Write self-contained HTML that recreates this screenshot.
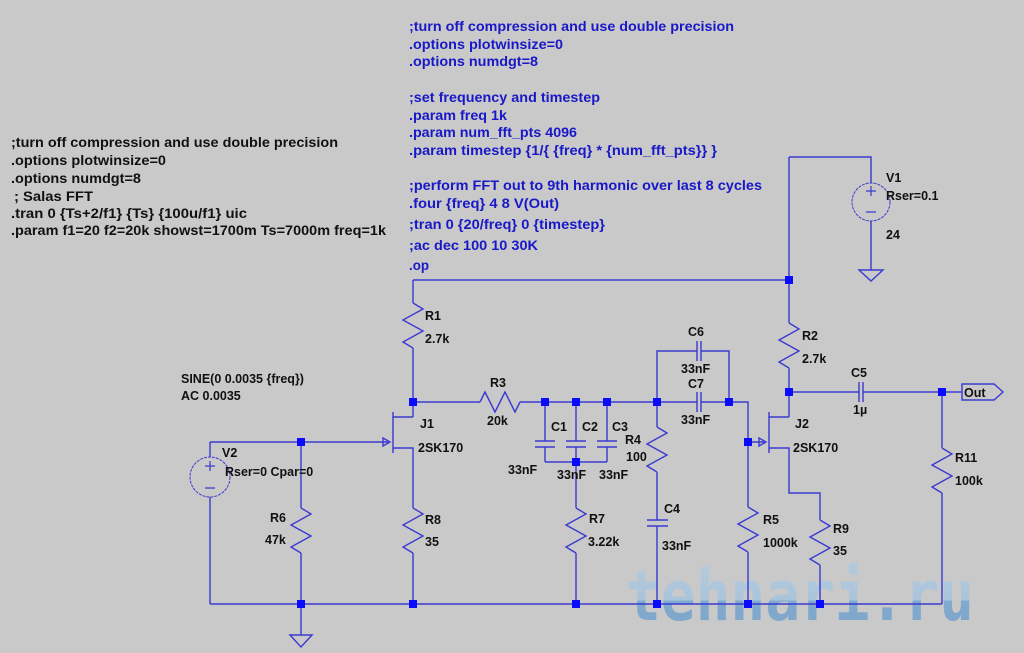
<!DOCTYPE html>
<html><head><meta charset="utf-8"><style>
html,body{margin:0;padding:0;background:#c9c9c9;}
svg{display:block}
text{font-family:"Liberation Sans",Arial,sans-serif;font-weight:bold;font-size:12.5px;fill:#111}
.b{fill:#1818c8;font-weight:bold;font-size:13.5px}
.k{font-weight:bold;font-size:13.5px;fill:#111}
</style></head><body>
<svg width="1024" height="653" viewBox="0 0 1024 653" xmlns="http://www.w3.org/2000/svg">
<rect width="1024" height="653" fill="#c9c9c9"/>
<defs><linearGradient id="wg" x1="0" y1="0" x2="0" y2="1"><stop offset="0" stop-color="#b4cce0"/><stop offset="0.55" stop-color="#a9c4dc"/><stop offset="0.56" stop-color="#7fa9cf"/><stop offset="1" stop-color="#7aa4cc"/></linearGradient></defs>
<!-- watermark -->
<text x="626" y="620" textLength="348" lengthAdjust="spacingAndGlyphs" style="font-family:'DejaVu Sans Mono','Liberation Mono',monospace;font-size:70px;font-weight:bold;fill:url(#wg);opacity:0.95">tehnari.ru</text>

<g fill="none" stroke="#3a3ad0" stroke-width="1.4">
<path d="M413 280H789M413 280V303M413 348V417"/>
<path d="M789 157V323M789 368V417M769 417H789"/>
<path d="M789 157H871V183M871 221V270M859 270H883L871 281Z"/>
<path d="M393 412V453M393 417H413M393 448H413V508M413 553V604"/>
<path d="M210 442H388M383 438L390 442L383 446Z"/>
<path d="M210 442V457M210 497V604M210 604H942"/>
<path d="M301 442V508M301 553V635M290 635H312L301 647Z"/>
<path d="M413 402H480M520 402H697M701 402H748V507M748 552V604"/>
<path d="M545 402V441M535 441H555M535 447H555M545 447V462"/>
<path d="M576 402V441M566 441H586M566 447H586M576 447V462"/>
<path d="M607 402V441M597 441H617M597 447H617M607 447V462"/>
<path d="M545 462H607M576 462V508M576 553V604"/>
<path d="M657 402V427M657 472V520M647 520H668M647 526H668M657 526V604"/>
<path d="M657 402V351H697M697 341V361M701 341V361M701 351H729V402"/>
<path d="M697 392V412M701 392V412"/>
<path d="M748 442H764M759 438L766 442L759 446Z"/>
<path d="M769 412V453M769 448H789V493H820V520M820 565V604"/>
<path d="M789 392H859M859 382V402M863 382V402M863 392H962"/>
<path d="M962 384H994L1003 392L994 400H962Z"/>
<path d="M942 392V448M942 493V604"/>
<path d="M413 303l10 6l-20 11l20 11l-20 11l10 6"/>
<path d="M789 323l10 6l-20 11l20 11l-20 11l10 6"/>
<path d="M480 402l5 -10l10 20l10 -20l10 20l5 -10"/>
<path d="M657 427l10 6l-20 11l20 11l-20 11l10 6"/>
<path d="M301 508l10 6l-20 11l20 11l-20 11l10 6"/>
<path d="M413 508l10 6l-20 11l20 11l-20 11l10 6"/>
<path d="M576 508l10 6l-20 11l20 11l-20 11l10 6"/>
<path d="M748 507l10 6l-20 11l20 11l-20 11l10 6"/>
<path d="M820 520l10 6l-20 11l20 11l-20 11l10 6"/>
<path d="M942 448l10 6l-20 11l20 11l-20 11l10 6"/>
</g>
<g fill="none" stroke="#3a3ad0" stroke-width="1" stroke-dasharray="3 1">
<circle cx="871" cy="202" r="19"/><circle cx="210" cy="477" r="20"/>
</g>
<g stroke="#3a3ad0" stroke-width="1.2">
<path d="M866 191H876M871 186V196M866 212H876"/>
<path d="M205 466H215M210 461V471M205 488H215"/>
</g>
<g fill="#0a0aff">
<rect x="785" y="276" width="8" height="8"/><rect x="409" y="398" width="8" height="8"/>
<rect x="541" y="398" width="8" height="8"/><rect x="572" y="398" width="8" height="8"/>
<rect x="603" y="398" width="8" height="8"/><rect x="653" y="398" width="8" height="8"/>
<rect x="725" y="398" width="8" height="8"/><rect x="572" y="458" width="8" height="8"/>
<rect x="744" y="438" width="8" height="8"/><rect x="785" y="388" width="8" height="8"/>
<rect x="938" y="388" width="8" height="8"/><rect x="297" y="438" width="8" height="8"/>
<rect x="297" y="600" width="8" height="8"/><rect x="409" y="600" width="8" height="8"/>
<rect x="572" y="600" width="8" height="8"/><rect x="653" y="600" width="8" height="8"/>
<rect x="744" y="600" width="8" height="8"/><rect x="816" y="600" width="8" height="8"/>
</g>
<text class="b" x="409" y="31" textLength="325" lengthAdjust="spacingAndGlyphs">;turn off compression and use double precision</text>
<text class="b" x="409" y="49" textLength="154" lengthAdjust="spacingAndGlyphs">.options plotwinsize=0</text>
<text class="b" x="409" y="66" textLength="129" lengthAdjust="spacingAndGlyphs">.options numdgt=8</text>
<text class="b" x="409" y="102" textLength="191" lengthAdjust="spacingAndGlyphs">;set frequency and timestep</text>
<text class="b" x="409" y="120" textLength="98" lengthAdjust="spacingAndGlyphs">.param freq 1k</text>
<text class="b" x="409" y="137" textLength="168" lengthAdjust="spacingAndGlyphs">.param num_fft_pts 4096</text>
<text class="b" x="409" y="155" textLength="308" lengthAdjust="spacingAndGlyphs">.param timestep {1/{ {freq} * {num_fft_pts}} }</text>
<text class="b" x="409" y="190" textLength="353" lengthAdjust="spacingAndGlyphs">;perform FFT out to 9th harmonic over last 8 cycles</text>
<text class="b" x="409" y="208" textLength="150" lengthAdjust="spacingAndGlyphs">.four {freq} 4 8 V(Out)</text>
<text class="b" x="409" y="229" textLength="196" lengthAdjust="spacingAndGlyphs">;tran 0 {20/freq} 0 {timestep}</text>
<text class="b" x="409" y="250" textLength="129" lengthAdjust="spacingAndGlyphs">;ac dec 100 10 30K</text>
<text class="b" x="409" y="270" textLength="20" lengthAdjust="spacingAndGlyphs">.op</text>

<text class="k" x="11" y="147" textLength="327" lengthAdjust="spacingAndGlyphs">;turn off compression and use double precision</text>
<text class="k" x="11" y="165" textLength="155" lengthAdjust="spacingAndGlyphs">.options plotwinsize=0</text>
<text class="k" x="11" y="183" textLength="130" lengthAdjust="spacingAndGlyphs">.options numdgt=8</text>
<text class="k" x="14" y="201" textLength="79" lengthAdjust="spacingAndGlyphs">; Salas FFT</text>
<text class="k" x="11" y="218" textLength="236" lengthAdjust="spacingAndGlyphs">.tran 0 {Ts+2/f1} {Ts} {100u/f1} uic</text>
<text class="k" x="11" y="235" textLength="375" lengthAdjust="spacingAndGlyphs">.param f1=20 f2=20k showst=1700m Ts=7000m freq=1k</text>

<text x="181" y="383">SINE(0 0.0035 {freq})</text>
<text x="181" y="400">AC 0.0035</text>
<text x="222" y="457">V2</text>
<text x="225" y="476">Rser=0 Cpar=0</text>
<text x="425" y="320">R1</text><text x="425" y="343">2.7k</text>
<text x="490" y="387">R3</text><text x="487" y="425">20k</text>
<text x="420" y="428">J1</text><text x="418" y="452">2SK170</text>
<text x="551" y="431">C1</text><text x="582" y="431">C2</text><text x="612" y="431">C3</text>
<text x="508" y="474">33nF</text><text x="557" y="479">33nF</text><text x="599" y="479">33nF</text>
<text x="625" y="444">R4</text><text x="626" y="461">100</text>
<text x="688" y="336">C6</text><text x="681" y="373">33nF</text>
<text x="688" y="388">C7</text><text x="681" y="424">33nF</text>
<text x="664" y="513">C4</text><text x="662" y="550">33nF</text>
<text x="589" y="523">R7</text><text x="588" y="546">3.22k</text>
<text x="270" y="522">R6</text><text x="265" y="544">47k</text>
<text x="425" y="524">R8</text><text x="425" y="546">35</text>
<text x="763" y="524">R5</text><text x="763" y="547">1000k</text>
<text x="833" y="533">R9</text><text x="833" y="555">35</text>
<text x="955" y="462">R11</text><text x="955" y="485">100k</text>
<text x="802" y="340">R2</text><text x="802" y="363">2.7k</text>
<text x="851" y="377">C5</text><text x="853" y="414">1µ</text>
<text x="795" y="428">J2</text><text x="793" y="452">2SK170</text>
<text x="886" y="182">V1</text><text x="886" y="200">Rser=0.1</text><text x="886" y="239">24</text>
<text x="964" y="397">Out</text>
</svg>
</body></html>
